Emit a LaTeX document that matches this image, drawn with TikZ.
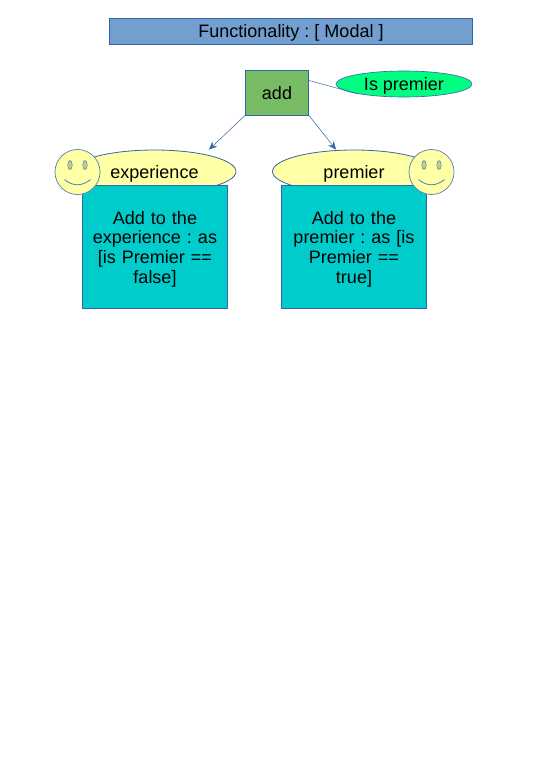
\documentclass[tikz,border=0pt]{standalone}
\usepackage{fontspec}
\setmainfont{Liberation Sans}
\frenchspacing
\usetikzlibrary{shapes.geometric,arrows.meta,calc}
\definecolor{edge}{HTML}{3465A4}
\definecolor{titlefill}{HTML}{729FCF}
\definecolor{addfill}{HTML}{77BC65}
\definecolor{flagfill}{HTML}{00FF80}
\definecolor{capfill}{HTML}{FFFFA6}
\definecolor{bodyfill}{HTML}{00CCCC}
\definecolor{faceedge}{HTML}{4F7FB5}
\definecolor{eyefill}{HTML}{C9C98A}
\tikzset{
  x=1pt,y=-1pt,
  boxbase/.style={draw=edge,line width=0.8pt,rectangle,inner sep=0pt,align=center,font=\fontsize{18}{19.6}\selectfont},
  titlebox/.style={boxbase,fill=titlefill,minimum width=363pt,minimum height=26.5pt},
  addbox/.style={boxbase,fill=addfill,minimum width=63pt,minimum height=45pt},
  bodybox/.style={boxbase,fill=bodyfill,minimum width=145pt,minimum height=123pt,text width=140pt},
  capell/.style={ellipse,draw=edge,line width=0.8pt,fill=capfill,inner sep=0pt,minimum width=163pt,minimum height=43pt,font=\fontsize{18}{19.8}\selectfont},
  flagell/.style={ellipse,draw=edge,line width=0.6pt,fill=flagfill,inner sep=0pt,minimum width=136pt,minimum height=26pt},
  flagtext/.style={font=\fontsize{18}{19.8}\selectfont,inner sep=0pt,yshift=-1.5pt},
  face/.style={circle,draw=faceedge,line width=0.7pt,fill=capfill,inner sep=0pt,minimum size=45pt},
  eye/.style={ellipse,draw=faceedge,line width=0.5pt,fill=eyefill,inner sep=0pt,minimum width=4.5pt,minimum height=9pt},
  link/.style={draw=edge,line width=0.5pt},
  arrowlink/.style={link,-{Stealth[length=8pt,width=7pt]}},
  smile/.style={draw=faceedge,line width=0.8pt}
}
\newcommand{\lowered}[1]{\rule{0pt}{#1pt}}
\newcommand{\smiley}[3]{%
  \node[face] (#1) at (#2,#3) {};
  \node[eye] (#1L) at (#2-7.5,#3-7) {};
  \node[eye] (#1R) at (#2+7.5,#3-7) {};
  \draw[smile] (#2-13,#3+7.5) .. controls (#2-5,#3+14.5) and (#2+5,#3+14.5) .. (#2+13,#3+7.5);
}
\begin{document}
\begin{tikzpicture}
\useasboundingbox (0,0) rectangle (543,768);
\node[titlebox] (title) at (291,31.2) {\lowered{17}Functionality : [ Modal ]};
\node[addbox] (add) at (277,92.5) {\lowered{15}add};
\node[flagell,label={[flagtext]center:Is premier}] (flag) at (404,84) {};
\node[capell] (experience) at (154.5,171.5) {\lowered{18}experience};
\node[capell] (premier) at (354,171.5) {\lowered{18}premier};
\node[bodybox] (expbody) at (155,246.5) {\lowered{18}Add to the\\experience : as\\{}[is Premier ==\\false]};
\node[bodybox] (prebody) at (354,246.5) {\lowered{18}Add to the\\premier : as [is\\Premier ==\\true]};
\smiley{faceL}{77.5}{172}
\smiley{faceR}{431.5}{172}
\draw[link] ([yshift=12pt]add.east) -- (flag.192);
\draw[arrowlink] (add.south west) -- ($(experience.north)+(54.5,0)$);
\draw[arrowlink] (add.south east) -- ($(premier.north)+(-18,0)$);
\end{tikzpicture}
\end{document}
